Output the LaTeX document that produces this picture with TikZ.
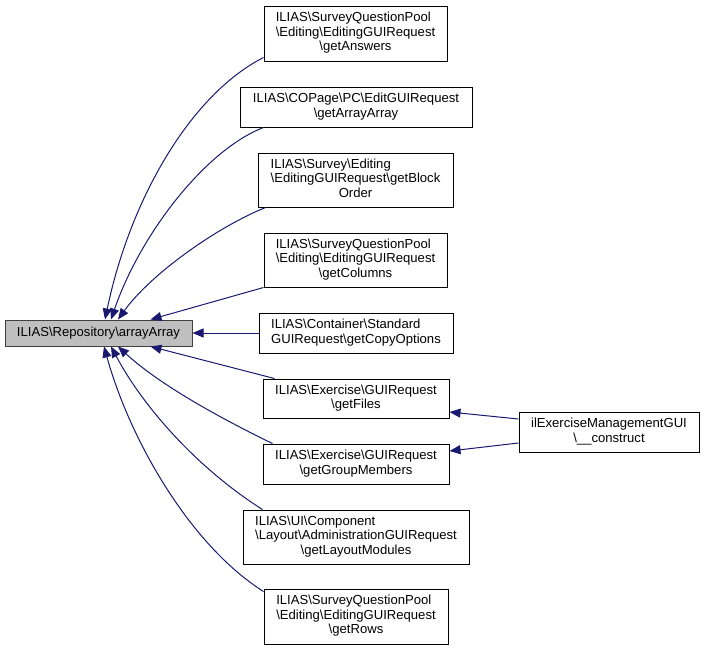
\documentclass[tikz,border=0pt]{standalone}
\usepackage{fontspec}
\setmainfont{Liberation Sans}
\usetikzlibrary{arrows.meta}
\definecolor{edgeblue}{HTML}{191970}
\definecolor{mainfill}{HTML}{BFBFBF}
\definecolor{mainline}{HTML}{404040}
\newcommand{\bsl}{\textbackslash}
\newcommand{\fn}[1]{\begin{tabular}{@{}l@{}}#1\end{tabular}}
\newcommand{\lastline}[1]{\multicolumn{1}{@{}c@{}}{#1}}

\begin{document}
\begin{tikzpicture}[x=1pt,y=-1pt,
  box/.style={draw=black,line width=1pt,inner sep=0pt,fill=white,
    font=\fontsize{13.1}{14.5}\selectfont},
  call/.style={->,edgeblue,line width=1pt,>={Triangle[length=11pt,width=9pt]}}]
\useasboundingbox[fill=white] (0,0) rectangle (704,651);

\node[box,fill=mainfill,draw=mainline,minimum width=187pt,minimum height=26pt] (main) at (98.5,333) {ILIAS\bsl Repository\bsl arrayArray};

\node[box,minimum width=183pt,minimum height=55pt] (ans) at (355.5,33.5)
  {\fn{ILIAS\bsl SurveyQuestionPool\\ \bsl Editing\bsl EditingGUIRequest\\ \lastline{\bsl getAnswers}}};
\node[box,minimum width=232pt,minimum height=40pt] (arr) at (356,107)
  {\fn{ILIAS\bsl COPage\bsl PC\bsl EditGUIRequest\\ \lastline{\bsl getArrayArray}}};
\node[box,minimum width=195pt,minimum height=54pt] (blk) at (355.5,180)
  {\fn{ILIAS\bsl Survey\bsl Editing\\ \bsl EditingGUIRequest\bsl getBlock\\ \lastline{Order}}};
\node[box,minimum width=183pt,minimum height=54pt] (col) at (355.5,260)
  {\fn{ILIAS\bsl SurveyQuestionPool\\ \bsl Editing\bsl EditingGUIRequest\\ \lastline{\bsl getColumns}}};
\node[box,minimum width=194pt,minimum height=40pt] (cpy) at (356,333)
  {\fn{ILIAS\bsl Container\bsl Standard\\ \lastline{GUIRequest\bsl getCopyOptions}}};
\node[box,minimum width=186pt,minimum height=39pt] (fil) at (356,398.5)
  {\fn{ILIAS\bsl Exercise\bsl GUIRequest\\ \lastline{\bsl getFiles}}};
\node[box,minimum width=186pt,minimum height=40pt] (grp) at (356,464)
  {\fn{ILIAS\bsl Exercise\bsl GUIRequest\\ \lastline{\bsl getGroupMembers}}};
\node[box,minimum width=226pt,minimum height=54pt] (lay) at (356,537)
  {\fn{ILIAS\bsl UI\bsl Component\\ \bsl Layout\bsl AdministrationGUIRequest\\ \lastline{\bsl getLayoutModules}}};
\node[box,minimum width=184pt,minimum height=55pt] (row) at (356,616.5)
  {\fn{ILIAS\bsl SurveyQuestionPool\\ \bsl Editing\bsl EditingGUIRequest\\ \lastline{\bsl getRows}}};
\node[box,minimum width=180pt,minimum height=40pt] (ilx) at (609,432)
  {\fn{ilExerciseManagementGUI\\ \lastline{\bsl\_\_construct}}};

% callers of arrayArray
\draw[call] ([yshift=4pt]ans.south west) .. controls (190,95) and (130,200) .. ([xshift=6.5pt]main.north);
\draw[call] ([xshift=24pt]arr.south west) .. controls (205,150) and (140,235) .. ([xshift=12.5pt]main.north);
\draw[call] ([xshift=8pt]blk.south west) .. controls (215,228) and (150,275) .. ([xshift=19.5pt]main.north);
\draw[call] (col.south west) -- ([xshift=-42pt]main.north east);
\draw[call] (cpy.west) -- (main.east);
\draw[call] ([xshift=12pt]fil.north west) -- ([xshift=-42pt]main.south east);
\draw[call] ([xshift=10pt]grp.north west) .. controls (220,418) and (160,385) .. ([xshift=19.5pt]main.south);
\draw[call] ([xshift=20pt]lay.north west) .. controls (200,470) and (145,410) .. ([xshift=12.5pt]main.south);
\draw[call] ([yshift=-3pt]row.north west) .. controls (190,545) and (130,440) .. ([xshift=5.5pt]main.south);

% second level
\draw[call] ([yshift=13pt]ilx.west) -- ([yshift=-13.5pt]fil.east);
\draw[call] ([yshift=-11pt]ilx.west) -- ([yshift=13pt]grp.east);
\end{tikzpicture}
\end{document}
